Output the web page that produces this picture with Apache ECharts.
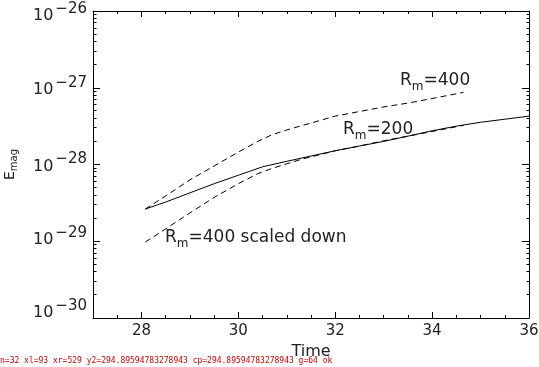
<!DOCTYPE html>
<html><head><meta charset="utf-8">
<script src="https://cdn.jsdelivr.net/npm/echarts@6/dist/echarts.min.js"></script>
<style>html,body{margin:0;padding:0;background:#fff}#c{width:539px;height:367px}#dbg{position:absolute;left:0;top:356px;font:8px monospace;color:#c00;white-space:nowrap}</style>
</head><body><div id="c"></div><div id="dbg"></div>
<script>
// ---- data; E_mag given in units of 1e-30 ----
const timeRm200 = [28.08, 28.5, 29, 29.5, 30, 30.5, 31, 31.5, 32, 32.5, 33, 33.5, 34, 34.5, 35, 35.5, 36];
const emagRm200 = [26.3, 32.4, 42.7, 56.2, 72.4, 93.3, 110, 129, 151, 174, 200, 234, 275, 316, 355, 389, 427];

const timeRm400 = [28.08, 28.5, 29, 29.5, 30, 30.4, 30.7, 31, 31.5, 32, 32.5, 33, 33.5, 34, 34.65];
const emagRm400 = [26.3, 38.9, 63.1, 95.5, 145, 200, 245, 282, 347, 427, 490, 562, 631, 724, 871];

const timeRm400Scaled = [28.08, 28.5, 29, 29.5, 30, 30.4, 30.7, 31, 31.3, 31.7, 32, 32.5, 33, 33.5, 34, 34.65];
const emagRm400Scaled = [9.77, 14.5, 23.4, 37.2, 56.2, 75.9, 89.1, 102, 117, 135, 151, 174, 204, 234, 269, 324];

const EMAG_UNIT_EXP = -30; // values above are multiples of 10^-30
const xMajorTicks = [28, 30, 32, 34, 36];
const xMinorTicks = [27.5, 28.5, 29, 29.5, 30.5, 31, 31.5, 32.5, 33, 33.5, 34.5, 35, 35.5];
const yDecades = [1, 10, 100, 1000, 10000];   // 10^-30 .. 10^-26 in the units above
const yMinorMultipliers = [2, 3, 4, 5, 6, 7, 8, 9];

const annotations = ['400', '200', '400 scaled down'];

// ---- build ----
const yMinorTicks = [];
yDecades.slice(0, -1).forEach(d => yMinorMultipliers.forEach(m => yMinorTicks.push(m * d)));
const yMin = yDecades[0], yMax = yDecades[yDecades.length - 1];
const xMin = 27, xMax = 36;

const FONT = 'DejaVu Sans';
const INK = '#222';
const zip = (xs, ys) => xs.map((x, i) => [x, ys[i]]);

const labelShift = { '26': 5, '27': 2, '28': 2, '29': -1, '30': -5 };
const yRich = {};
Object.keys(labelShift).forEach(k => {
  const d = labelShift[k];
  yRich['b' + k] = { fontSize: 16, fontFamily: FONT, color: INK, padding: d > 0 ? [2 * d, 0, 0, 0] : [0, 0, -2 * d, 0] };
  yRich['e' + k] = { fontSize: 15, fontFamily: FONT, color: INK, padding: [0, 0, 14 - 2 * d, 2] };
});

const hidden = { splitLine: { show: false }, axisLabel: { show: false } };
const tickStyle = { color: '#000', width: 1 };

const xAxes = [
  { type: 'value', position: 'bottom', min: xMin, max: xMax,
    axisLine: { show: true, onZero: false, lineStyle: { color: '#000', width: 1 } },
    axisTick: { show: true, inside: true, length: 6, customValues: xMajorTicks, lineStyle: tickStyle },
    axisLabel: { show: true, customValues: xMajorTicks, margin: 6, fontSize: 15, fontFamily: FONT, color: INK },
    splitLine: { show: false },
    name: 'Time', nameLocation: 'middle', nameGap: 23,
    nameTextStyle: { fontSize: 16, fontFamily: FONT, color: INK } },
  Object.assign({ type: 'value', position: 'bottom', min: xMin, max: xMax, axisLine: { show: false, onZero: false },
    axisTick: { show: true, inside: true, length: 3, customValues: xMinorTicks, lineStyle: tickStyle } }, hidden),
  { type: 'value', position: 'top', min: xMin, max: xMax,
    axisLine: { show: true, onZero: false, lineStyle: { color: '#000', width: 1 } },
    axisTick: { show: true, inside: true, length: 6, customValues: xMajorTicks, lineStyle: tickStyle },
    axisLabel: { show: false }, splitLine: { show: false } },
  Object.assign({ type: 'value', position: 'top', min: xMin, max: xMax, axisLine: { show: false, onZero: false },
    axisTick: { show: true, inside: true, length: 3, customValues: xMinorTicks, lineStyle: tickStyle } }, hidden)
];

const yAxes = [
  { type: 'log', logBase: 10, position: 'left', min: yMin, max: yMax,
    axisLine: { show: true, onZero: false, lineStyle: { color: '#000', width: 1 } },
    axisTick: { show: true, inside: true, length: 7, lineStyle: tickStyle },
    axisLabel: { show: true, margin: 6,
      formatter: v => { const k = String(-(Math.round(Math.log10(v)) + EMAG_UNIT_EXP)); return '{b' + k + '|10}{e' + k + '|\u2212' + k + '}'; },
      rich: yRich },
    splitLine: { show: false },
    name: 'E{s|mag}', nameLocation: 'middle', nameGap: 74, nameRotate: 90, nameMoveOverlap: false,
    nameTextStyle: { fontSize: 14, fontFamily: FONT, color: INK,
      rich: { s: { fontSize: 10, fontFamily: FONT, color: INK, padding: [8, 0, 0, 0] } } } },
  { type: 'log', logBase: 10, position: 'right', min: yMin, max: yMax,
    axisLine: { show: true, onZero: false, lineStyle: { color: '#000', width: 1 } },
    axisTick: { show: true, inside: true, length: 7, lineStyle: tickStyle },
    axisLabel: { show: false }, splitLine: { show: false } }
];

const annRich = { s: { fontSize: 12, fontFamily: FONT, fill: INK, padding: [12, 0, 0, 0] },
                  n: { fontSize: 17, fontFamily: FONT, fill: INK } };
function ann(text, x, y) {
  return { type: 'text', x: x, y: y, silent: true,
    style: { text: '{n|R}{s|m}{n|=' + text + '}', rich: annRich, fontSize: 17, fontFamily: FONT, fill: INK,
      align: 'left', verticalAlign: 'middle' } };
}
const annGraphics = [ann(annotations[0], 400, 81), ann(annotations[1], 343, 130), ann(annotations[2], 165, 238)];

const option = {
  animation: false,
  backgroundColor: '#fff',
  grid: { left: 93, right: 10, top: 11, bottom: 49, containLabel: false, outerBoundsMode: 'none' },
  xAxis: xAxes,
  yAxis: yAxes,
  series: [
    { type: 'line', name: 'Rm=200', data: zip(timeRm200, emagRm200), showSymbol: false,
      lineStyle: { color: '#000', width: 1, type: 'solid' } },
    { type: 'line', name: 'Rm=400', data: zip(timeRm400, emagRm400), showSymbol: false,
      lineStyle: { color: '#000', width: 1, type: [6, 4] } },
    { type: 'line', name: 'Rm=400 scaled down', data: zip(timeRm400Scaled, emagRm400Scaled), showSymbol: false,
      lineStyle: { color: '#000', width: 1, type: [6, 4] } }
  ],
  graphic: annGraphics
};

const chart = echarts.init(document.getElementById('c'), null, { renderer: 'canvas' });
chart.setOption(option);

// minor log ticks on both y sides, positioned through the y axis' own log scale
let info = 'n=' + yMinorTicks.length;
try {
  const m = chart.getModel();
  const xa = m.getComponent('xAxis', 0).axis;
  const ya = m.getComponent('yAxis', 0).axis;
  const toX = v => xa.toGlobalCoord(xa.dataToCoord(v));
  const toY = v => ya.toGlobalCoord(ya.dataToCoord(v));
  const xl = toX(xMin), xr = toX(xMax);
  info += ' xl=' + xl + ' xr=' + xr + ' y2=' + toY(2) + ' cp=' + chart.convertToPixel({ yAxisIndex: 0 }, 2);
  const crisp = p => Math.round(p - 0.5) + 0.5;
  const tickGraphics = [];
  yMinorTicks.forEach(v => {
    const py = toY(v);
    if (!isFinite(py)) return;
    const y = crisp(py);
    tickGraphics.push({ type: 'line', silent: true, z: 100,
      shape: { x1: crisp(xl), y1: y, x2: crisp(xl) + 3, y2: y }, style: { stroke: '#000', lineWidth: 1 } });
    tickGraphics.push({ type: 'line', silent: true, z: 100,
      shape: { x1: crisp(xr), y1: y, x2: crisp(xr) - 3, y2: y }, style: { stroke: '#000', lineWidth: 1 } });
  });
  info += ' g=' + tickGraphics.length;
  chart.setOption({ graphic: { elements: annGraphics.concat(tickGraphics) } });
  info += ' ok';
} catch (e) { info += ' ERR ' + e.message; }
document.getElementById('dbg').textContent = info;
</script>
</body></html>
